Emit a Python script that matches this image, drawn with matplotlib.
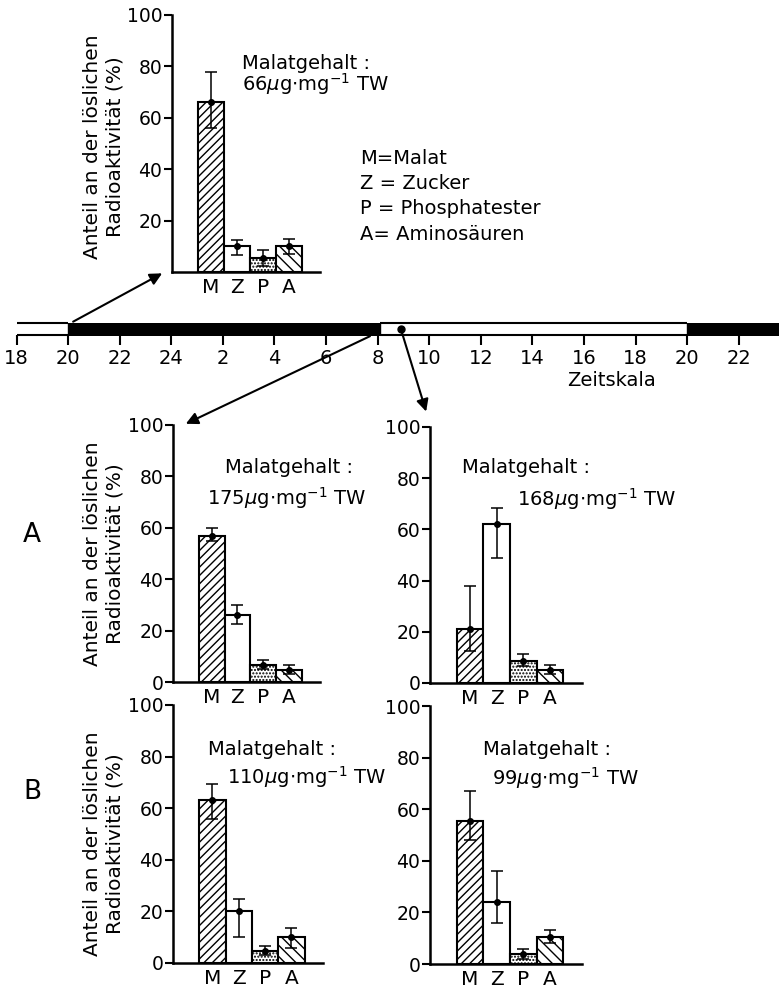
import numpy as np
from matplotlib import pyplot as plt

plt.rcParams['font.family'] = ['DejaVu Sans']
plt.rcParams['hatch.linewidth'] = 1.0

W, H = 779, 989

categories = ['M', 'Z', 'P', 'A']
hatches = ['////', '', '.....', '\\\\\\']

# 20 Uhr (Beginn der Dunkelphase)
val_20h = [66, 10, 5.5, 10]
lo_20h = [56, 6.5, 2.5, 7]
hi_20h = [78, 12.5, 8.5, 13]

# A, Ende der Dunkelphase
val_A1 = [57, 26, 6.5, 4.5]
lo_A1 = [55, 22.5, 5, 3]
hi_A1 = [60, 30, 8.5, 6.5]

# A, nach Lichtbeginn
val_A2 = [21, 62, 8.5, 5]
lo_A2 = [12.5, 49, 6.5, 3.5]
hi_A2 = [38, 68.5, 11.5, 7]

# B, Ende der Dunkelphase
val_B1 = [63, 20, 4.5, 10]
lo_B1 = [56, 10, 3, 6]
hi_B1 = [69.5, 25, 6.5, 13.5]

# B, nach Lichtbeginn
val_B2 = [55.5, 24, 4, 10.5]
lo_B2 = [48, 16, 2, 8]
hi_B2 = [67, 36, 6, 13]

malat = ['66', '175', '168', '110', '99']

# Zeitskala
time_ticks = [18, 20, 22, 24, 26, 28, 30, 32, 34, 36, 38, 40, 42, 44, 46]
time_labels = ['18', '20', '22', '24', '2', '4', '6', '8', '10', '12',
               '14', '16', '18', '20', '22']
dark_periods = [(20, 32.1), (44, 47.6)]
light_periods = [(18, 20), (32.1, 44)]
sample_times = [20.1, 31.8, 32.9]

legend_lines = ['M=Malat', 'Z = Zucker', 'P = Phosphatester', 'A= Aminosäuren']


def px_axes(fig, x0, x1, ytop, ybot):
    return fig.add_axes([x0 / W, 1 - ybot / H, (x1 - x0) / W, (ybot - ytop) / H])


def barPanel(ax, vals, lo, hi, show_zero=True):
    x = np.arange(len(categories))
    vals = np.array(vals)
    bars = ax.bar(x, vals, width=1.0, color='white', edgecolor='black', linewidth=1.5)
    for b, h in zip(bars, hatches):
        b.set_hatch(h)
    yerr = [vals - np.array(lo), np.array(hi) - vals]
    ax.errorbar(x, vals, yerr=yerr, fmt='o', ms=4, color='black',
                elinewidth=1.1, capsize=4, capthick=1.1)
    ax.set_xlim(-1.5, 4.2)
    ax.set_ylim(0, 100)
    ticks = [0, 20, 40, 60, 80, 100] if show_zero else [20, 40, 60, 80, 100]
    ax.set_yticks(ticks)
    ax.set_xticks(x)
    ax.set_xticklabels(categories)
    ax.tick_params(axis='y', direction='out', length=6, width=1.5, labelsize=13.5, pad=1)
    ax.tick_params(axis='x', length=0, labelsize=14.5, pad=4)
    ax.spines['top'].set_visible(False)
    ax.spines['right'].set_visible(False)
    ax.spines['left'].set_linewidth(1.8)
    ax.spines['bottom'].set_linewidth(1.8)
    ax.patch.set_alpha(0)


def malatText(ax, value, x1, y1, x2, y2):
    ax.text(x1, y1, 'Malatgehalt :', transform=ax.transAxes, fontsize=14,
            ha='left', va='center')
    ax.text(x2, y2, value + r'$\mu$g$\cdot$mg$^{-1}$ TW', transform=ax.transAxes,
            fontsize=14, ha='left', va='center')


def ylabelText(fig, ytop, ybot):
    fig.text(104 / W, 1 - (ytop + ybot) / 2 / H,
             'Anteil an der löslichen\nRadioaktivität (%)', rotation=90,
             ha='center', va='center', fontsize=14.5, linespacing=1.25)


fig = plt.figure(figsize=(W / 100, H / 100), dpi=100)

# Panels
ax_top = px_axes(fig, 172, 320, 15, 272)
barPanel(ax_top, val_20h, lo_20h, hi_20h, show_zero=False)
malatText(ax_top, malat[0], 0.47, 0.81, 0.47, 0.73)
ylabelText(fig, 22, 272)

ax_a1 = px_axes(fig, 173, 320, 425, 682)
barPanel(ax_a1, val_A1, lo_A1, hi_A1)
malatText(ax_a1, malat[1], 0.354, 0.833, 0.23, 0.716)
ylabelText(fig, 425, 682)

ax_a2 = px_axes(fig, 430, 582, 427, 683)
barPanel(ax_a2, val_A2, lo_A2, hi_A2)
malatText(ax_a2, malat[2], 0.21, 0.84, 0.57, 0.72)

ax_b1 = px_axes(fig, 173, 323, 705, 963)
barPanel(ax_b1, val_B1, lo_B1, hi_B1)
malatText(ax_b1, malat[3], 0.233, 0.826, 0.36, 0.72)
ylabelText(fig, 712, 975)

ax_b2 = px_axes(fig, 430, 582, 706, 964)
barPanel(ax_b2, val_B2, lo_B2, hi_B2)
malatText(ax_b2, malat[4], 0.35, 0.83, 0.41, 0.72)

fig.text(32 / W, 1 - 535 / H, 'A', fontsize=19, ha='center', va='center')
fig.text(32 / W, 1 - 792 / H, 'B', fontsize=19, ha='center', va='center')

for i, line in enumerate(legend_lines):
    fig.text(360 / W, 1 - (158 + i * 25.5) / H, line, fontsize=14, ha='left', va='center')

# Zeitskala
ax_t = px_axes(fig, 0, W, 323, 335)
ax_t.set_xlim(17.36, 47.56)
ax_t.set_ylim(0, 1)
for s, e in light_periods:
    ax_t.hlines([0, 1], s, e, color='black', lw=1.5, clip_on=False)
for s, e in dark_periods:
    ax_t.broken_barh([(s, e - s)], (0, 1), facecolor='black', edgecolor='black')
ax_t.plot([sample_times[2]], [0.5], 'o', color='black', ms=5)
ax_t.set_xticks(time_ticks)
ax_t.set_xticklabels(time_labels)
ax_t.set_yticks([])
ax_t.tick_params(axis='x', direction='out', length=7, width=1.5, labelsize=14, pad=3)
for sp in ax_t.spines.values():
    sp.set_visible(False)
ax_t.patch.set_alpha(0)
fig.text(612 / W, 1 - 380 / H, 'Zeitskala', fontsize=14, ha='center', va='center')

# Pfeile zu den Probenahmen
arrow = dict(arrowstyle='-|>', lw=1.5, color='black', mutation_scale=18)
ax_t.annotate('', xy=(-0.05, 0.0), xycoords=ax_top.transAxes,
              xytext=(sample_times[0], 1), textcoords='data',
              arrowprops=arrow, annotation_clip=False)
ax_t.annotate('', xy=(0.07, 1.0), xycoords=ax_a1.transAxes,
              xytext=(sample_times[1], 0), textcoords='data',
              arrowprops=arrow, annotation_clip=False)
ax_t.annotate('', xy=(-0.02, 1.05), xycoords=ax_a2.transAxes,
              xytext=(sample_times[2], 0.5), textcoords='data',
              arrowprops=arrow, annotation_clip=False)

fig.savefig('out.png', dpi=100)
plt.close()
